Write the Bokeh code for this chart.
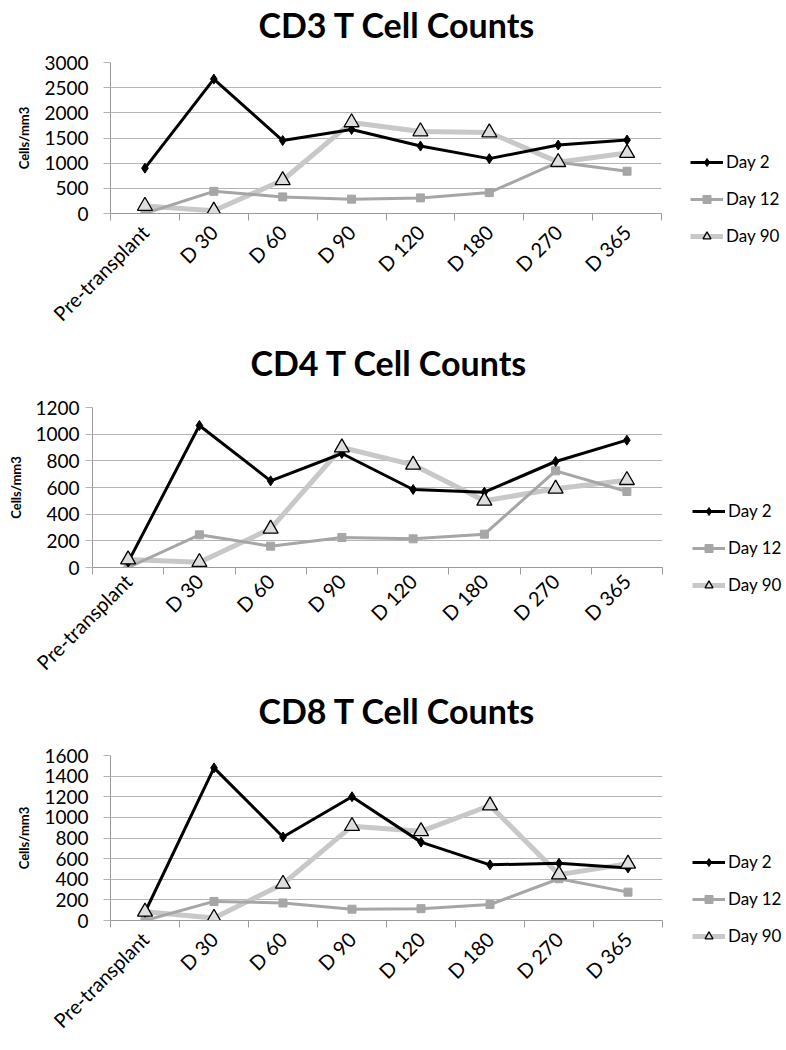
import numpy as np
from bokeh.plotting import figure
from bokeh.models import Range1d, FixedTicker, Legend, LegendItem, Title
from bokeh.layouts import column, row
from bokeh.embed import file_html
from bokeh.resources import INLINE

categories = ["Pre-transplant", "D 30", "D 60", "D 90", "D 120", "D 180", "D 270", "D 365"]
series_names = ["Day 2", "Day 12", "Day 90"]

cd3_day2 = [900, 2670, 1450, 1670, 1340, 1090, 1360, 1460]
cd3_day12 = [0, 440, 330, 285, 310, 415, 1020, 840]
cd3_day90 = [150, 55, 660, 1810, 1630, 1610, 1020, 1200]
cd3_yticks = [0, 500, 1000, 1500, 2000, 2500, 3000]

cd4_day2 = [40, 1065, 650, 855, 585, 565, 795, 955]
cd4_day12 = [0, 245, 160, 225, 215, 250, 725, 570]
cd4_day90 = [60, 40, 290, 900, 770, 500, 590, 655]
cd4_yticks = [0, 200, 400, 600, 800, 1000, 1200]

cd8_day2 = [80, 1480, 810, 1200, 760, 540, 555, 510]
cd8_day12 = [0, 185, 170, 110, 115, 155, 405, 275]
cd8_day90 = [85, 25, 355, 915, 865, 1115, 445, 550]
cd8_yticks = [0, 200, 400, 600, 800, 1000, 1200, 1400, 1600]

FONT = "Lato"
GRID = "#b4b4b4"
AXIS = "#9a9a9a"
WIDTH = 786


def make_chart(title, d2, d12, d90, yticks, frame_left, frame_top, frame_w, frame_h,
               height, title_offset, spacer_standoff, ylab_standoff, axlab_standoff,
               xlab_standoff, legend_loc):
    p = figure(frame_width=frame_w, frame_height=frame_h,
               output_backend="svg", toolbar_location=None,
               x_range=Range1d(0.5, len(categories) + 0.5),
               y_range=Range1d(yticks[0], yticks[-1]),
               min_border_left=frame_left, min_border_right=WIDTH - frame_left - frame_w,
               min_border_top=frame_top, min_border_bottom=height - frame_top - frame_h)
    p.outline_line_color = None
    p.background_fill_color = "white"

    # spacer between frame and title
    p.add_layout(Title(text=" ", text_font_size="1px", standoff=spacer_standoff), "above")

    p.title.text = title
    p.title.align = "left"
    p.title.vertical_align = "bottom"
    p.title.offset = title_offset
    p.title.standoff = 0
    p.title.text_font = FONT
    p.title.text_font_size = "34px"
    p.title.text_font_style = "bold"
    p.title.text_color = "black"

    xs = np.arange(1, len(categories) + 1)
    bounds = np.arange(len(categories) + 1) + 0.5

    xa = p.xaxis[0]
    xa.ticker = FixedTicker(ticks=list(xs), minor_ticks=list(bounds))
    xa.major_label_overrides = {int(i): c for i, c in zip(xs, categories)}
    xa.major_label_orientation = np.pi / 4
    xa.major_tick_out = 0
    xa.major_tick_in = 0
    xa.minor_tick_out = 7
    xa.minor_tick_in = 0
    xa.minor_tick_line_color = AXIS
    xa.axis_line_color = AXIS
    xa.major_label_text_font = FONT
    xa.major_label_text_font_size = "20px"
    xa.major_label_text_color = "black"
    xa.major_label_standoff = xlab_standoff

    ya = p.yaxis[0]
    ya.ticker = FixedTicker(ticks=yticks)
    ya.major_tick_out = 7
    ya.major_tick_in = 0
    ya.minor_tick_out = 0
    ya.minor_tick_in = 0
    ya.major_tick_line_color = GRID
    ya.axis_line_color = AXIS
    ya.major_label_text_font = FONT
    ya.major_label_text_font_size = "19px"
    ya.major_label_text_color = "black"
    ya.major_label_standoff = ylab_standoff
    ya.axis_label = "Cells/mm3"
    ya.axis_label_text_font = FONT
    ya.axis_label_text_font_size = "13px"
    ya.axis_label_text_font_style = "bold"
    ya.axis_label_text_color = "black"
    ya.axis_label_standoff = axlab_standoff

    p.xgrid.visible = False
    p.ygrid.ticker = FixedTicker(ticks=yticks)
    p.ygrid.grid_line_color = GRID
    p.ygrid.grid_line_width = 1

    l90 = p.line(xs, d90, line_color="#c8c8c8", line_width=5)
    l12 = p.line(xs, d12, line_color="#a6a6a6", line_width=3)
    l2 = p.line(xs, d2, line_color="black", line_width=3)
    m12 = p.scatter(xs, d12, marker="square", size=8, fill_color="#a6a6a6", line_color="#a6a6a6")
    m2 = p.scatter(xs, d2, marker="diamond", size=10, fill_color="black", line_color="black")
    m90 = p.scatter(xs, d90, marker="triangle", size=15, fill_color="#dedede",
                    line_color="black", line_width=1.3)

    legend = Legend(items=[
        LegendItem(label=series_names[0], renderers=[l2, m2]),
        LegendItem(label=series_names[1], renderers=[l12, m12]),
        LegendItem(label=series_names[2], renderers=[l90, m90]),
    ], location=legend_loc)
    legend.border_line_color = None
    legend.background_fill_alpha = 0
    legend.padding = 0
    legend.margin = 0
    legend.glyph_width = 33
    legend.glyph_height = 20
    legend.label_height = 20
    legend.spacing = 16
    legend.label_standoff = 3
    legend.label_text_font = FONT
    legend.label_text_font_size = "17px"
    legend.label_text_color = "black"
    p.add_layout(legend, "right")
    return p


p1 = make_chart("CD3 T Cell Counts", cd3_day2, cd3_day12, cd3_day90, cd3_yticks,
                frame_left=110, frame_top=62, frame_w=551, frame_h=151, height=338,
                title_offset=148, spacer_standoff=15, ylab_standoff=15, axlab_standoff=9,
                xlab_standoff=8, legend_loc=(29, -33))
p2 = make_chart("CD4 T Cell Counts", cd4_day2, cd4_day12, cd4_day90, cd4_yticks,
                frame_left=92, frame_top=69, frame_w=570, frame_h=160, height=348,
                title_offset=158, spacer_standoff=22, ylab_standoff=6, axlab_standoff=8,
                xlab_standoff=3, legend_loc=(30, -28))
p3 = make_chart("CD8 T Cell Counts", cd8_day2, cd8_day12, cd8_day90, cd8_yticks,
                frame_left=110, frame_top=69, frame_w=552, frame_h=165, height=360,
                title_offset=148, spacer_standoff=22, ylab_standoff=15, axlab_standoff=9,
                xlab_standoff=8, legend_loc=(30, -26))

layout = column(row(p1), row(p2), row(p3), spacing=0)
open("out.html", "w").write(file_html(layout, INLINE))
